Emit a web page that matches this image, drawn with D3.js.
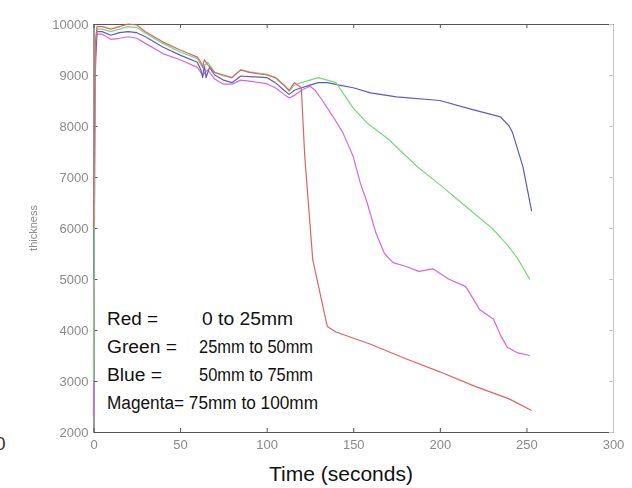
<!DOCTYPE html>
<html>
<head>
<meta charset="utf-8">
<script src="https://cdn.jsdelivr.net/npm/d3@7"></script>
<style>
  html, body { margin: 0; padding: 0; background: #fff; }
  svg { display: block; }
  .tick text { font-family: "Liberation Sans", Arial, sans-serif; font-size: 13px; fill: #8a8a8a; }
  .legend text { font-family: "Liberation Sans", Arial, sans-serif; font-size: 18px; fill: #111; }
</style>
</head>
<body>
<script>
// ---- data ----
const xTicks = [0, 50, 100, 150, 200, 250, 300];
const yTicks = [2000, 3000, 4000, 5000, 6000, 7000, 8000, 9000, 10000];

const redT = [0,1,2,5,10,15,20,25,30,40,50,60,62,63,64,66,70,75,80,85,90,100,105,110,113,116,120,122,126.6,135,140,160,180,200,220,240,253];
const redV = [6000,9600,9950,9950,9900,9950,10000,9980,9850,9650,9490,9350,9250,9150,9300,9200,9050,9000,8950,9100,9050,9000,8950,8800,8700,8850,8750,7400,5380,4070,3960,3720,3440,3180,2900,2650,2420];

const greenT = [0,1,2,5,10,15,20,25,30,40,50,60,63,66,70,75,80,85,90,100,105,110,113,116,120,125,130,135,140,145,150,158,170,187,200,215,230,238,245,252];
const greenV = [3000,9600,9900,9900,9850,9900,9950,9930,9820,9620,9450,9320,9150,9250,9050,8980,8950,9100,9060,9020,8950,8800,8680,8800,8850,8900,8950,8900,8850,8600,8350,8060,7750,7200,6850,6420,6000,5710,5400,4990];

const blueT = [0,1,2,5,10,15,20,25,30,40,50,60,62,63,64,65,67,70,75,80,85,90,100,105,110,113,116,120,125,130,135,142,150,160,175,200,219,235,240,242,248,253];
const blueV = [5000,9300,9850,9850,9780,9830,9850,9830,9750,9550,9390,9250,9100,8950,9200,8950,9150,9000,8900,8850,8980,8970,8950,8850,8700,8620,8700,8750,8800,8850,8850,8800,8750,8650,8570,8500,8320,8180,8000,7870,7200,6330];

const magentaT = [0,1,2,5,10,15,20,25,30,40,50,60,63,66,70,75,80,85,90,100,105,110,113,116,120,125,128,132,138,144,150,154,158,163,168,173,180,188,196,205,215,223,231,235,239,245,252];
const magentaV = [2300,9000,9800,9800,9700,9720,9750,9720,9620,9420,9300,9150,9000,9100,8920,8820,8820,8900,8880,8830,8750,8620,8550,8600,8700,8780,8700,8510,8200,7870,7400,6890,6500,5910,5500,5320,5250,5150,5200,5000,4850,4400,4210,3900,3660,3550,3500];

const seriesNames = ["Red", "Green", "Blue", "Magenta"];
const seriesColors = ["#e06464", "#74dc74", "#5a5ac8", "#d866e2"];
const legendLabels = ["Red =", "Green =", "Blue =", ""];
const legendRanges = ["0 to 25mm", "25mm to 50mm", "50mm to 75mm", "Magenta= 75mm to 100mm"];

// ---- chart ----
const W = 632, H = 488;
const svg = d3.select("body").append("svg").attr("width", W).attr("height", H);

const x = d3.scaleLinear().domain([0, 300]).range([93.5, 613]);
const y = d3.scaleLinear().domain([2000, 10000]).range([432, 24]);

const defs = svg.append("defs");
defs.append("filter").attr("id", "soft")
  .append("feGaussianBlur").attr("stdDeviation", 0.45);

// axes
const axisColor = "#555";
const fmt = d3.format("d");
const gB = svg.append("g").attr("transform", `translate(0,${y(2000)})`)
  .call(d3.axisBottom(x).tickValues(xTicks).tickFormat(fmt).tickSize(-4).tickPadding(8).tickSizeOuter(0));
const gT = svg.append("g").attr("transform", `translate(0,${y(10000)})`)
  .call(d3.axisTop(x).tickValues(xTicks).tickSize(-4).tickFormat("").tickSizeOuter(0));
const gL = svg.append("g").attr("transform", `translate(${x(0)},0)`)
  .call(d3.axisLeft(y).tickValues(yTicks).tickFormat(fmt).tickSize(-4).tickPadding(5).tickSizeOuter(0));
const gR = svg.append("g").attr("transform", `translate(${x(300)},0)`)
  .call(d3.axisRight(y).tickValues(yTicks).tickSize(-4).tickFormat("").tickSizeOuter(0));
[gB, gT, gL, gR].forEach(g => {
  g.select(".domain").attr("stroke", axisColor).attr("stroke-width", 1.2);
  g.selectAll(".tick line").attr("stroke", axisColor);
  g.selectAll(".tick text").attr("filter", "url(#soft)");
});
gR.select(".domain").attr("stroke", "#c8c8c8");
gR.selectAll(".tick line").attr("stroke", "#c8c8c8");

// lines
const seriesT = [redT, greenT, blueT, magentaT];
const seriesV = [redV, greenV, blueV, magentaV];
const line = d3.line().x(d => x(d[0])).y(d => y(d[1]));
[3, 2, 1, 0].forEach(i => {
  const pts = seriesT[i].map((t, k) => [t, seriesV[i][k]]);
  svg.append("path").datum(pts)
    .attr("d", line)
    .attr("fill", "none")
    .attr("stroke", seriesColors[i])
    .attr("stroke-width", 1.2)
    .attr("stroke-linejoin", "round")
    .attr("filter", "url(#soft)");
});

// y label
svg.append("text")
  .attr("transform", "translate(37,228) rotate(-90)")
  .attr("text-anchor", "middle")
  .attr("font-family", "Liberation Sans, Arial, sans-serif")
  .attr("font-size", 11)
  .attr("fill", "#8a8a8a")
  .attr("filter", "url(#soft)")
  .text("thickness");

// x label
svg.append("text")
  .attr("x", 341).attr("y", 481)
  .attr("text-anchor", "middle")
  .attr("font-family", "Liberation Sans, Arial, sans-serif")
  .attr("font-size", 21)
  .attr("fill", "#111")
  .text("Time (seconds)");

// clipped stray glyph on the left edge (as in the reference)
svg.append("text")
  .attr("x", -5).attr("y", 450)
  .attr("font-family", "Liberation Sans, Arial, sans-serif")
  .attr("font-size", 19)
  .attr("fill", "#333")
  .text("0");

// legend text
const labelWidths = [51, 70, 55, 0];
const rangeWidths = [91, 114, 114, 211];
const lg = svg.append("g").attr("class", "legend");
seriesNames.forEach((n, i) => {
  const yy = 325 + i * 28;
  if (legendLabels[i]) {
    lg.append("text").attr("x", 107).attr("y", yy)
      .attr("textLength", labelWidths[i]).attr("lengthAdjust", "spacingAndGlyphs")
      .text(legendLabels[i]);
    lg.append("text").attr("x", i === 0 ? 202 : 199).attr("y", yy)
      .attr("textLength", rangeWidths[i]).attr("lengthAdjust", "spacingAndGlyphs")
      .text(legendRanges[i]);
  } else {
    lg.append("text").attr("x", 107).attr("y", yy)
      .attr("textLength", rangeWidths[i]).attr("lengthAdjust", "spacingAndGlyphs")
      .text(legendRanges[i]);
  }
});
</script>
</body>
</html>
